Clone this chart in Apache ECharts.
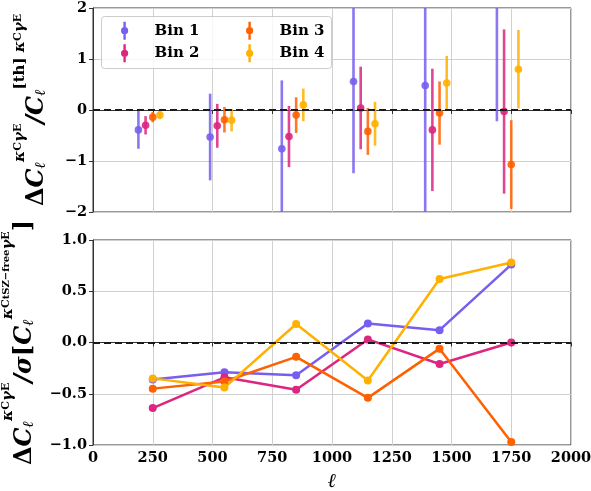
<!DOCTYPE html>
<html><head><meta charset="utf-8">
<script src="https://cdn.jsdelivr.net/npm/echarts@6/dist/echarts.min.js"></script>
<style>html,body{margin:0;padding:0;background:#fff}#c{width:591px;height:491px}</style>
</head><body><div id="c"></div>
<script>
// ---- data ----
const ellCenters = [250, 550, 850, 1150, 1450, 1750];
const binNames = ['Bin 1', 'Bin 2', 'Bin 3', 'Bin 4'];
const binOffsets = [-60, -30, 0, 30];
// top panel: Delta C / C_th with error bars
const ratioBin1 = [-0.39, -0.53, -0.76, 0.56, 0.48, 2.30];
const errBin1   = [0.37, 0.85, 1.34, 1.80, 2.60, 2.52];
const ratioBin2 = [-0.30, -0.31, -0.52, 0.04, -0.39, -0.03];
const errBin2   = [0.18, 0.43, 0.60, 0.81, 1.20, 1.61];
const ratioBin3 = [-0.14, -0.19, -0.10, -0.42, -0.06, -1.07];
const errBin3   = [0.10, 0.25, 0.35, 0.46, 0.62, 0.87];
const ratioBin4 = [-0.10, -0.20, 0.10, -0.27, 0.53, 0.80];
const errBin4   = [0.08, 0.22, 0.32, 0.43, 0.53, 0.77];
// bottom panel: Delta C / sigma
const sigBin1 = [-0.36, -0.29, -0.32, 0.185, 0.12, 0.76];
const sigBin2 = [-0.64, -0.34, -0.46, 0.03, -0.21, 0.00];
const sigBin3 = [-0.45, -0.38, -0.14, -0.54, -0.06, -0.97];
const sigBin4 = [-0.35, -0.44, 0.18, -0.37, 0.62, 0.78];
const xTicks = [0, 250, 500, 750, 1000, 1250, 1500, 1750, 2000];

const colors = ['#785EF0', '#DC267F', '#FE6100', '#FFB000'];
const ratios = [ratioBin1, ratioBin2, ratioBin3, ratioBin4];
const errs = [errBin1, errBin2, errBin3, errBin4];
const sigs = [sigBin1, sigBin2, sigBin3, sigBin4];

const SERIF = '"DejaVu Serif", serif';
const minus = s => String(s).replace('-', '\u2212');
const axisLineStyle = {color: '#333', width: 1};
const gridLine = {show: true, lineStyle: {color: '#d0d0d0', width: 1}};
const tickStyle = {show: true, inside: false, length: 4, lineStyle: {color: '#333'}};
const lblFont = {fontFamily: SERIF, fontWeight: 'bold', fontSize: 14.5, color: '#000'};

const rich = {
  D: {fontFamily: SERIF, fontWeight: 'bold', fontSize: 24, color: '#000', lineHeight: 36, verticalAlign: 'bottom'},
  C: {fontFamily: SERIF, fontWeight: 'bold', fontStyle: 'italic', fontSize: 24, color: '#000', lineHeight: 36, verticalAlign: 'bottom'},
  sub: {fontFamily: SERIF, fontWeight: 'bold', fontStyle: 'italic', fontSize: 15, color: '#000', lineHeight: 15, verticalAlign: 'bottom'},
  sup: {fontFamily: SERIF, fontWeight: 'bold', fontStyle: 'italic', fontSize: 15, color: '#000', lineHeight: 15, verticalAlign: 'top'},
  supU: {fontFamily: SERIF, fontWeight: 'bold', fontSize: 15, color: '#000', lineHeight: 15, verticalAlign: 'top'},
  supS: {fontFamily: SERIF, fontWeight: 'bold', fontSize: 11, color: '#000', lineHeight: 21, verticalAlign: 'top'},
  supSup: {fontFamily: SERIF, fontWeight: 'bold', fontSize: 10, color: '#000', lineHeight: 10, verticalAlign: 'top'}
};

const topName = '{D|Δ}{C|C}{sub|ℓ}{sup|κ}{supS|C}{sup|γ}{supS|E}{C|/C}{sub|ℓ}{supU|[th] }{sup|κ}{supS|C}{sup|γ}{supS|E}';
const botName = '{D|Δ}{C|C}{sub|ℓ}{sup|κ}{supS|C}{sup|γ}{supS|E}{C|/σ}{D|[}{C|C}{sub|ℓ}{sup|κ}{supS|C}{supSup|tSZ−free}{sup|γ}{supS|E}{D|]}';

const errIcon = 'path://M3.5,0 H6.5 V22.5 H3.5 Z M5,6.75 A4.5,4.5 0 1 1 5,15.75 A4.5,4.5 0 1 1 5,6.75 Z';

const series = [];
const zeroLine = {silent: true, symbol: ['none', 'none'], label: {show: false},
  lineStyle: {color: '#1a1a1a', type: [7, 4], width: 2}, data: [{yAxis: 0}]};
binNames.forEach((name, b) => {
  const data = ellCenters.map((l, i) => [l + binOffsets[b], ratios[b][i], errs[b][i]]);
  const s = {
    name, type: 'custom', xAxisIndex: 0, yAxisIndex: 0, clip: true,
    itemStyle: {color: colors[b]},
    encode: {x: 0, y: 1},
    data,
    renderItem: (params, api) => {
      const x = api.value(0), y = api.value(1), e = api.value(2);
      const p = api.coord([x, y]);
      const t = api.coord([x, y + e]);
      const bt = api.coord([x, y - e]);
      return {type: 'group', children: [
        {type: 'line', shape: {x1: p[0], y1: t[1], x2: p[0], y2: bt[1]}, style: {stroke: colors[b], lineWidth: 2.6, opacity: 0.85}},
        {type: 'circle', shape: {cx: p[0], cy: p[1], r: 3.8}, style: {fill: colors[b], opacity: 0.9}}
      ]};
    }
  };
  if (b === 0) s.markLine = zeroLine;
  series.push(s);
});
binNames.forEach((name, b) => {
  const s = {
    name, type: 'line', xAxisIndex: 1, yAxisIndex: 1,
    data: ellCenters.map((l, i) => [l, sigs[b][i]]),
    symbol: 'circle', symbolSize: 8, showSymbol: true,
    itemStyle: {color: colors[b]},
    lineStyle: {color: colors[b], width: 2.5},
    z: 3
  };
  if (b === 0) s.markLine = zeroLine;
  series.push(s);
});

const legendFont = {fontFamily: SERIF, fontWeight: 'bold', fontSize: 15, color: '#000'};
const legendBase = {
  orient: 'vertical', top: 21.7, padding: 0, itemGap: 4.6,
  itemWidth: 8, itemHeight: 18, z: 10,
  formatter: name => '{sp| }{t|' + name + '}',
  textStyle: Object.assign({rich: {sp: {width: 21, fontSize: 15}, t: legendFont}}, legendFont)
};
const option = {
  animation: false,
  backgroundColor: '#fff',
  grid: [
    {left: 93, right: 20, top: 8, height: 204, show: true, borderColor: '#333', borderWidth: 1, containLabel: false, outerBoundsMode: 'none'},
    {left: 93, right: 20, top: 240, height: 205, show: true, borderColor: '#333', borderWidth: 1, containLabel: false, outerBoundsMode: 'none'}
  ],
  graphic: [{
    type: 'rect', left: 101, top: 16, z: 5,
    shape: {width: 230, height: 52, r: 3},
    style: {fill: 'rgba(255,255,255,0.8)', stroke: '#cccccc', lineWidth: 1}
  }],
  xAxis: [
    {type: 'value', gridIndex: 0, min: xTicks[0], max: xTicks[xTicks.length - 1], interval: 250,
      axisLine: {show: true, lineStyle: axisLineStyle}, axisTick: tickStyle,
      axisLabel: {show: false}, splitLine: gridLine},
    {type: 'value', gridIndex: 1, min: xTicks[0], max: xTicks[xTicks.length - 1], interval: 250,
      axisLine: {show: true, lineStyle: axisLineStyle}, axisTick: tickStyle,
      axisLabel: Object.assign({margin: 6, formatter: v => String(v)}, lblFont), splitLine: gridLine,
      name: 'ℓ', nameLocation: 'middle', nameGap: 27,
      nameTextStyle: {fontFamily: SERIF, fontWeight: 'bold', fontStyle: 'italic', fontSize: 20, color: '#000'}}
  ],
  yAxis: [
    {type: 'value', gridIndex: 0, min: -2, max: 2, interval: 1,
      axisLine: {show: true, lineStyle: axisLineStyle}, axisTick: tickStyle,
      axisLabel: Object.assign({margin: 6, formatter: v => minus(v)}, lblFont), splitLine: gridLine,
      name: topName, nameLocation: 'middle', nameRotate: 90, nameGap: 44,
      nameTextStyle: {rich}},
    {type: 'value', gridIndex: 1, min: -1, max: 1, interval: 0.5,
      axisLine: {show: true, lineStyle: axisLineStyle}, axisTick: tickStyle,
      axisLabel: Object.assign({margin: 6, formatter: v => minus(v.toFixed(1))}, lblFont), splitLine: gridLine,
      name: botName, nameLocation: 'middle', nameRotate: 90, nameGap: 56,
      nameTextStyle: {rich}}
  ],
  legend: [
    Object.assign({left: 121, data: binNames.slice(0, 2).map(n => ({name: n, icon: errIcon}))}, legendBase),
    Object.assign({left: 246, data: binNames.slice(2, 4).map(n => ({name: n, icon: errIcon}))}, legendBase)
  ],
  series
};
const chart = echarts.init(document.getElementById('c'), null, {renderer: 'canvas'});
chart.setOption(option);
</script>
</body></html>
